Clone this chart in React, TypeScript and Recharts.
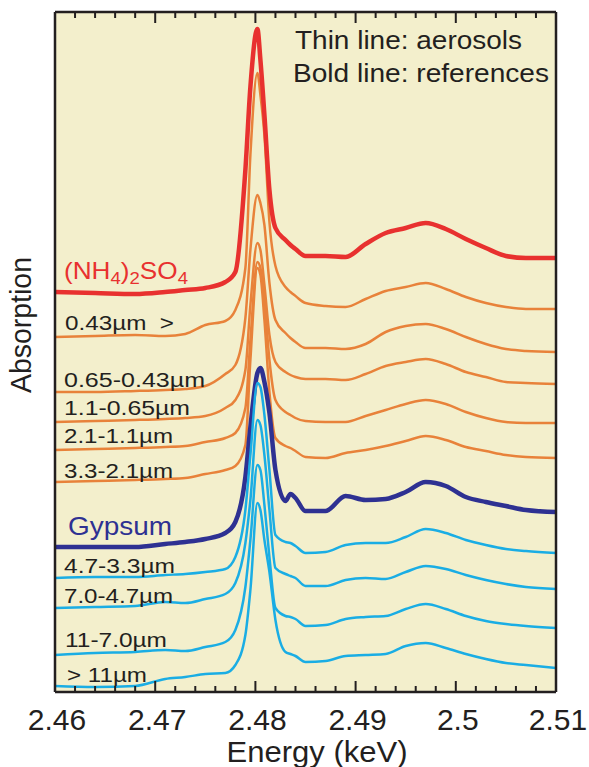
import { LineChart, Line, XAxis, YAxis, ReferenceArea } from "recharts";

// energy grid (keV), denser around the white line
const energy = [
  2.46, 2.464, 2.468, 2.471, 2.473, 2.475, 2.477, 2.478, 2.479, 2.4795, 2.4802,
  2.4805, 2.4809, 2.4814, 2.482, 2.483, 2.4835, 2.484, 2.485, 2.487, 2.489,
  2.491, 2.493, 2.495, 2.497, 2.499, 2.501, 2.503, 2.505, 2.507, 2.51,
];

// stacked absorption (offset, arb. units)
const nh4so4 = [4.0, 3.99, 3.98, 4.0, 4.02, 4.04, 4.1, 4.2, 5.22, 6.05, 6.63, 6.32, 5.77, 5.02, 4.64, 4.52, 4.47, 4.43, 4.36, 4.36, 4.35, 4.48, 4.59, 4.64, 4.69, 4.63, 4.53, 4.44, 4.36, 4.34, 4.34];
const aer043 = [3.55, 3.56, 3.57, 3.56, 3.58, 3.67, 3.71, 3.82, 4.24, 5.37, 6.19, 5.97, 5.57, 4.7, 4.26, 4.05, 4.0, 3.96, 3.89, 3.86, 3.85, 3.93, 4.01, 4.05, 4.09, 4.03, 3.95, 3.89, 3.85, 3.83, 3.83];
const aer065 = [3.0, 3.0, 3.01, 3.02, 3.03, 3.06, 3.18, 3.27, 3.74, 4.42, 4.97, 4.89, 4.67, 4.09, 3.72, 3.59, 3.54, 3.5, 3.44, 3.44, 3.43, 3.48, 3.6, 3.66, 3.68, 3.63, 3.55, 3.48, 3.43, 3.41, 3.4];
const aer11 = [2.7, 2.71, 2.72, 2.73, 2.74, 2.76, 2.84, 2.92, 3.22, 3.87, 4.49, 4.42, 4.07, 3.57, 3.3, 3.2, 3.17, 3.15, 3.13, 3.13, 3.12, 3.18, 3.26, 3.3, 3.33, 3.28, 3.2, 3.15, 3.1, 3.09, 3.08];
const aer21 = [2.42, 2.43, 2.44, 2.45, 2.46, 2.5, 2.54, 2.59, 2.84, 3.52, 4.3, 4.24, 3.92, 3.32, 2.92, 2.8, 2.77, 2.74, 2.71, 2.7, 2.7, 2.76, 2.82, 2.88, 2.92, 2.88, 2.8, 2.74, 2.7, 2.69, 2.69];
const aer33 = [2.1, 2.11, 2.12, 2.13, 2.14, 2.18, 2.22, 2.26, 2.47, 3.32, 4.24, 4.17, 3.72, 3.0, 2.54, 2.46, 2.44, 2.41, 2.35, 2.34, 2.39, 2.42, 2.46, 2.51, 2.56, 2.52, 2.45, 2.41, 2.37, 2.35, 2.34];
const gypsum = [1.45, 1.45, 1.45, 1.48, 1.5, 1.53, 1.59, 1.7, 2.15, 2.65, 3.19, 3.24, 3.1, 2.79, 2.22, 1.91, 1.98, 1.94, 1.81, 1.81, 1.96, 1.92, 1.93, 2.0, 2.1, 2.06, 1.95, 1.9, 1.86, 1.82, 1.8];
const aer47 = [1.14, 1.15, 1.15, 1.17, 1.18, 1.2, 1.23, 1.35, 1.82, 2.37, 3.09, 3.05, 2.77, 2.22, 1.57, 1.5, 1.49, 1.46, 1.39, 1.4, 1.47, 1.49, 1.49, 1.55, 1.63, 1.59, 1.52, 1.47, 1.43, 1.41, 1.39];
const aer70 = [0.84, 0.85, 0.86, 0.9, 0.89, 0.93, 0.98, 1.09, 1.49, 1.92, 2.72, 2.67, 2.37, 1.82, 1.24, 1.18, 1.16, 1.14, 1.06, 1.06, 1.12, 1.14, 1.13, 1.2, 1.26, 1.23, 1.17, 1.12, 1.08, 1.05, 1.03];
const aer110 = [0.37, 0.39, 0.4, 0.42, 0.41, 0.45, 0.5, 0.62, 1.05, 1.52, 2.27, 2.22, 1.87, 1.35, 0.84, 0.76, 0.75, 0.73, 0.66, 0.67, 0.73, 0.75, 0.76, 0.83, 0.88, 0.83, 0.76, 0.71, 0.68, 0.66, 0.64];
const aerGt11 = [0.06, 0.05, 0.06, 0.13, 0.15, 0.18, 0.19, 0.27, 0.57, 1.02, 1.89, 1.82, 1.52, 1.2, 0.72, 0.4, 0.38, 0.36, 0.3, 0.31, 0.36, 0.37, 0.38, 0.46, 0.49, 0.44, 0.38, 0.33, 0.29, 0.27, 0.24];

const majorTicks = [2.46, 2.47, 2.48, 2.49, 2.5, 2.51];
const minorTicks = [
  2.462, 2.464, 2.466, 2.468, 2.472, 2.474, 2.476, 2.478, 2.482, 2.484, 2.486,
  2.488, 2.492, 2.494, 2.496, 2.498, 2.502, 2.504, 2.506, 2.508,
];

const rows = energy.map((e, i) => ({
  e,
  nh4: nh4so4[i],
  a043: aer043[i],
  a065: aer065[i],
  a11: aer11[i],
  a21: aer21[i],
  a33: aer33[i],
  gyp: gypsum[i],
  a47: aer47[i],
  a70: aer70[i],
  a110: aer110[i],
  agt11: aerGt11[i],
}));

const FONT = "'Liberation Sans', Arial, Helvetica, sans-serif";
const INK = "#231f20";
const RED = "#e8312f";
const ORANGE = "#e8823a";
const NAVY = "#2e3192";
const CYAN = "#1aade4";
const BG = "#f3efcc";

const isMajor = (v: number) => majorTicks.some((m) => Math.abs(m - v) < 1e-6);

function BottomTick(props: any) {
  const { x, y, payload } = props;
  const major = isMajor(payload.value);
  return (
    <g>
      <line x1={x} x2={x} y1={y} y2={y - (major ? 11 : 6)} stroke={INK} strokeWidth={2} />
      {major && (
        <text x={x + 2} y={y + 38} textAnchor="middle" fontSize={30} fill={INK} fontFamily={FONT}>
          {String(payload.value)}
        </text>
      )}
    </g>
  );
}

function TopTick(props: any) {
  const { x, y, payload } = props;
  const major = isMajor(payload.value);
  return <line x1={x} x2={x} y1={y} y2={y + (major ? 11 : 6)} stroke={INK} strokeWidth={2} />;
}

function Txt(props: { x: number; y: number; w: number; size: number; color?: string; children: any }) {
  const { x, y, w, size, color = INK, children } = props;
  return (
    <text
      x={x}
      y={y}
      fontSize={size}
      fill={color}
      fontFamily={FONT}
      textLength={w}
      lengthAdjust="spacingAndGlyphs"
    >
      {children}
    </text>
  );
}

const thin = { strokeWidth: 2.5, dot: false, isAnimationActive: false, type: "monotone" as const };
const bold = { strokeWidth: 4.5, dot: false, isAnimationActive: false, type: "monotone" as const };

export default function App() {
  const axisLine = { stroke: INK, strokeWidth: 2.5 };
  return (
    <div style={{ position: "absolute", left: 0, top: 0, width: 589, height: 767, background: "#fff" }}>
      <LineChart width={589} height={767} data={rows} margin={{ top: 11, right: 32, bottom: 74, left: 54 }}>
        <ReferenceArea x1={2.46} x2={2.51} y1={0} y2={6.8} fill={BG} fillOpacity={1} stroke="none" />
        <XAxis
          dataKey="e"
          type="number"
          domain={[2.46, 2.51]}
          ticks={[...majorTicks, ...minorTicks]}
          interval={0}
          allowDataOverflow
          height={1}
          tickSize={0}
          tickMargin={0}
          tickLine={false}
          tick={<BottomTick />}
          axisLine={axisLine}
        />
        <XAxis
          xAxisId="top"
          orientation="top"
          dataKey="e"
          type="number"
          domain={[2.46, 2.51]}
          ticks={[...majorTicks, ...minorTicks]}
          interval={0}
          allowDataOverflow
          height={1}
          tickSize={0}
          tickMargin={0}
          tickLine={false}
          tick={<TopTick />}
          axisLine={axisLine}
        />
        <YAxis type="number" domain={[0, 6.8]} allowDataOverflow width={1} tick={false} tickLine={false} axisLine={axisLine} />
        <YAxis
          yAxisId="right"
          orientation="right"
          type="number"
          domain={[0, 6.8]}
          allowDataOverflow
          width={1}
          tick={false}
          tickLine={false}
          axisLine={axisLine}
        />
        <Line dataKey="a043" stroke={ORANGE} {...thin} />
        <Line dataKey="a065" stroke={ORANGE} {...thin} />
        <Line dataKey="a11" stroke={ORANGE} {...thin} />
        <Line dataKey="a21" stroke={ORANGE} {...thin} />
        <Line dataKey="a33" stroke={ORANGE} {...thin} />
        <Line dataKey="nh4" stroke={RED} {...bold} />
        <Line dataKey="gyp" stroke={NAVY} {...bold} />
        <Line dataKey="a47" stroke={CYAN} {...thin} />
        <Line dataKey="a70" stroke={CYAN} {...thin} />
        <Line dataKey="a110" stroke={CYAN} {...thin} />
        <Line dataKey="agt11" stroke={CYAN} {...thin} />
      </LineChart>
      <svg width={589} height={767} style={{ position: "absolute", left: 0, top: 0, pointerEvents: "none" }}>
        <Txt x={295} y={49} w={227} size={26}>Thin line: aerosols</Txt>
        <Txt x={293} y={82} w={256} size={26}>Bold line: references</Txt>
        <text x={64} y={279} fontSize={24} fill={RED} fontFamily={FONT} textLength={124} lengthAdjust="spacingAndGlyphs">
          (NH<tspan fontSize={17} dy={5}>4</tspan>
          <tspan dy={-5}>)</tspan>
          <tspan fontSize={17} dy={5}>2</tspan>
          <tspan dy={-5}>SO</tspan>
          <tspan fontSize={17} dy={5}>4</tspan>
        </text>
        <Txt x={65} y={330} w={109} size={20}>0.43µm{"\u00a0\u00a0"}&gt;</Txt>
        <Txt x={64} y={387} w={141} size={20}>0.65-0.43µm</Txt>
        <Txt x={64} y={415} w={126} size={20}>1.1-0.65µm</Txt>
        <Txt x={64} y={443} w={109} size={20}>2.1-1.1µm</Txt>
        <Txt x={64} y={478} w={109} size={20}>3.3-2.1µm</Txt>
        <Txt x={68} y={535} w={104} size={25} color={NAVY}>Gypsum</Txt>
        <Txt x={64} y={573} w={111} size={20}>4.7-3.3µm</Txt>
        <Txt x={64} y={603} w={109} size={20}>7.0-4.7µm</Txt>
        <Txt x={65} y={647} w={102} size={20}>11-7.0µm</Txt>
        <Txt x={67} y={682} w={80} size={20}>&gt; 11µm</Txt>
        <text x={317} y={762} textAnchor="middle" fontSize={29} fill={INK} fontFamily={FONT} textLength={181} lengthAdjust="spacingAndGlyphs">
          Energy (keV)
        </text>
        <text
          x={31}
          y={325}
          transform="rotate(-90 31 325)"
          textAnchor="middle"
          fontSize={29}
          fill={INK}
          fontFamily={FONT}
          textLength={136}
          lengthAdjust="spacingAndGlyphs"
        >
          Absorption
        </text>
      </svg>
    </div>
  );
}
